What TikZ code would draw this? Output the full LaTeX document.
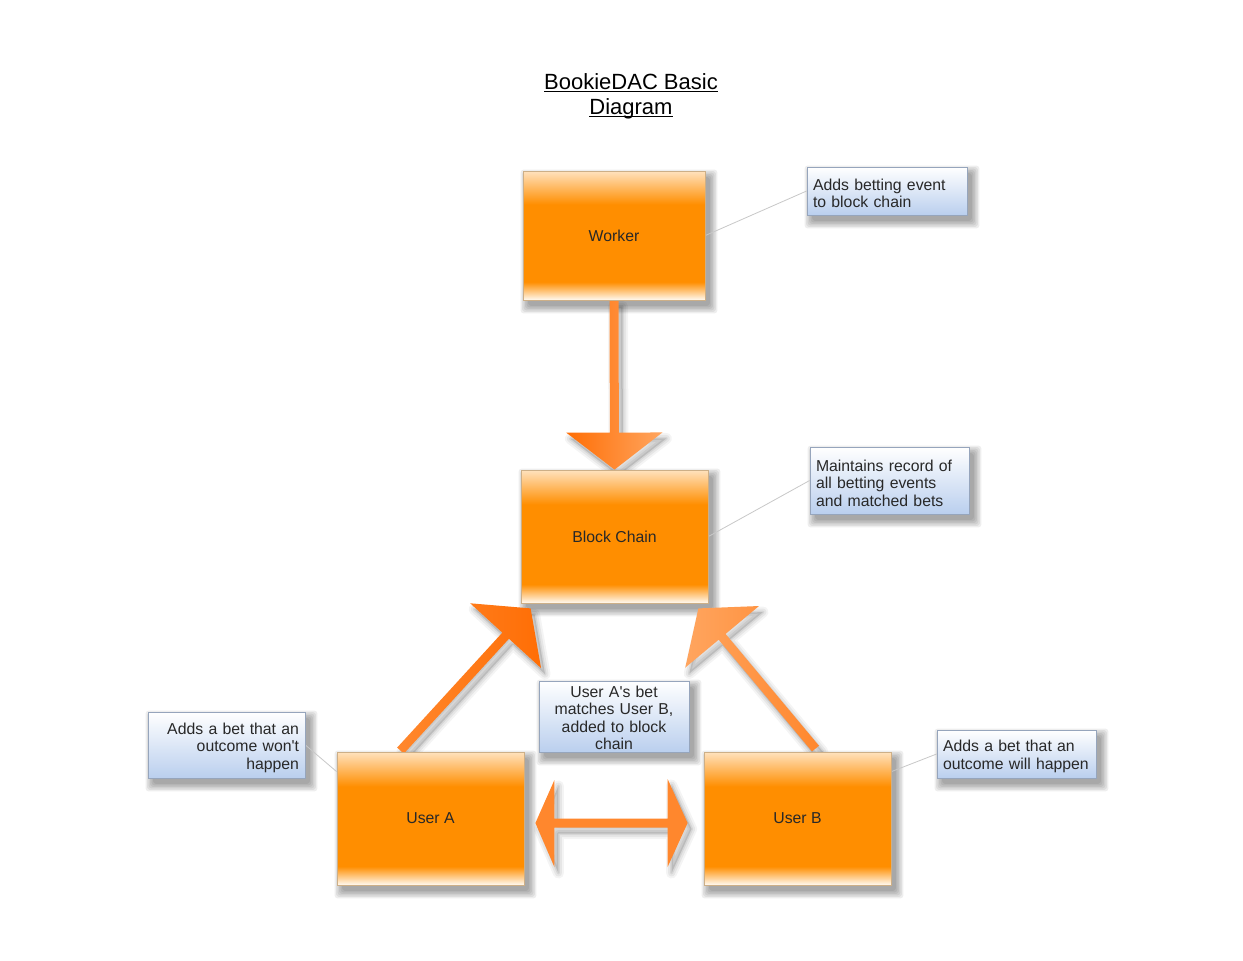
\documentclass[tikz,border=0pt]{standalone}
\usepackage{fontspec}
\setmainfont{Liberation Sans}[Ligatures=TeXOff]
\usetikzlibrary{calc}
\definecolor{boxor}{RGB}{255,142,0}
\definecolor{boxtop}{RGB}{255,226,190}
\definecolor{boxbot}{RGB}{255,250,242}
\definecolor{boxline}{RGB}{205,175,135}
\definecolor{notebot}{RGB}{186,207,238}
\definecolor{noteline}{RGB}{150,165,188}
\definecolor{txt}{RGB}{40,40,40}
\definecolor{arrdark}{RGB}{255,110,5}
\definecolor{arrmid}{RGB}{255,135,45}
\definecolor{arrlight}{RGB}{255,165,95}
\definecolor{linkgray}{RGB}{200,200,200}
\pgfdeclareverticalshading{boxshade}{100bp}{color(0bp)=(boxbot); color(25bp)=(boxbot); color(32bp)=(boxor); color(62bp)=(boxor); color(75bp)=(boxtop); color(100bp)=(boxtop)}
\pgfdeclarelayer{back}
\pgfsetlayers{back,main}
\newcommand\ulfix[1]{\leavevmode\setbox0=\hbox{#1}\rlap{\copy0}\rule[-3pt]{\wd0}{1.2pt}}
\newcommand\tstrut[1][16.5pt]{\rule{0pt}{#1}}
% soft shadow behind a rectangular node
\newcommand\fuzz[1]{%
  \foreach \e in {7,5.5,4,2.5,1,-0.5}{%
    \fill[black, opacity=0.065, rounded corners=3pt]
      ($(#1.north west)+(5-\e,6-\e)$) rectangle ($(#1.south east)+(5+\e,6+\e)$);}}
% polygon through ap1..ap#2
\newcommand\arrpoly[2]{\path[#1] (ap1) \foreach \i in {2,...,#2}{ -- (ap\i)} -- cycle;}
\newcommand\arrshadow[1]{%
  \foreach \w/\o in {11/0.045, 7/0.055, 3/0.065}{%
    \draw[black, opacity=\o, line width=\w pt, line join=round]
      ($(ap1)+(4,6)$) \foreach \i in {2,...,#1}{ -- ($(ap\i)+(4,6)$)} -- cycle;}
  \fill[black, opacity=0.12] ($(ap1)+(4,6)$) \foreach \i in {2,...,#1}{ -- ($(ap\i)+(4,6)$)} -- cycle;}
\newcommand\blkarrow[3]{% #1 shading, #2 start, #3 tip
  \coordinate (hb) at ($(#3)!37pt!(#2)$);
  \coordinate (ap1) at ($(#2)!4.5pt!90:(#3)$);
  \coordinate (ap2) at ($(hb)!4.5pt!90:(#3)$);
  \coordinate (ap3) at ($(hb)!48pt!90:(#3)$);
  \coordinate (ap4) at (#3);
  \coordinate (ap5) at ($(hb)!48pt!-90:(#3)$);
  \coordinate (ap6) at ($(hb)!4.5pt!-90:(#3)$);
  \coordinate (ap7) at ($(#2)!4.5pt!-90:(#3)$);
  \arrshadow{7}
  \arrpoly{#1}{7}}
\tikzset{
  every node/.style={font=\fontsize{15.8pt}{17.5pt}\selectfont, text=txt},
  box/.style={draw=boxline, line width=0.8pt, shading=boxshade,
    minimum width=187pt, minimum height=133pt, inner sep=0pt},
  note/.style={draw=noteline, line width=0.8pt, top color=white, bottom color=notebot,
    inner xsep=6pt, inner ysep=0pt},
  link/.style={draw=linkgray, line width=0.8pt},
  arrshade/.style={shade}
}
\begin{document}
\begin{tikzpicture}[x=1pt,y=-1pt]
\useasboundingbox (0,0) rectangle (1243,961);
\begin{pgfonlayer}{back}
\fill[white] (-1,-1) rectangle (1244,962);
\end{pgfonlayer}

% title
\node[font=\fontsize{22pt}{25pt}\selectfont, text=black, align=center, inner sep=0pt] (title) at (631,96)
  {\ulfix{BookieDAC Basic}\\\ulfix{Diagram}};

% boxes
\node[box, minimum width=182pt, minimum height=129pt] (worker) at (614,235.5) {Worker};
\node[box] (bc) at (614.5,536.5) {Block Chain};
\node[box] (ua) at (430.5,818.5) {User A};
\node[box] (ub) at (797.5,818.5) {User B};

% notes
\node[note, text width=148pt, minimum height=48pt, align=left] (n1) at (887,191) {\tstrut Adds betting event\\to block chain};
\node[note, text width=147pt, minimum height=67pt, align=left] (n2) at (889.5,480.5) {\tstrut Maintains record of\\all betting events\\and matched bets};
\node[note, text width=145pt, minimum height=66pt, align=right] (na) at (226.5,745) {\tstrut[17pt]Adds a bet that an\\outcome won't\\happen};
\node[note, text width=147pt, minimum height=48pt, align=left] (nb) at (1016.5,754) {\tstrut Adds a bet that an\\outcome will happen};
\node[note, text width=138pt, minimum height=71pt, align=center] (nm) at (614,716.5) {\tstrut[14.5pt]User A's bet\\matches User B,\\added to block\\chain};

\coordinate (uaw) at ($(ua.north west)+(0,20)$);
\coordinate (ube) at ($(ub.north east)+(0,20)$);
\coordinate (a1s) at ($(ua.north)+(-30,-1)$);
\coordinate (a1t) at ($(bc.south west)+(10,5)$);
\coordinate (b1s) at ($(ub.north)+(18,-3)$);
\coordinate (b1t) at ($(bc.south east)+(-10,5)$);
\coordinate (dl) at ($(ua.east)+(11,4.5)$);
\coordinate (dr) at ($(ub.west)+(-16,4.5)$);

\begin{pgfonlayer}{back}
\foreach \n in {worker,bc,ua,ub,n1,n2,na,nb,nm}{\fuzz{\n}}
\draw[link] (worker.east) -- (n1.west);
\draw[link] (bc.east) -- (n2.west);
\draw[link] (na.east) -- (uaw);
\draw[link] (ube) -- (nb.west);
\blkarrow{arrshade, left color=arrdark, right color=arrlight}{worker.south}{bc.north}
\blkarrow{arrshade, left color=arrmid, right color=arrdark}{a1s}{a1t}
\blkarrow{arrshade, left color=arrlight, right color=arrmid}{b1s}{b1t}
% double arrow between the users
\coordinate (ap1) at (dl);
\coordinate (ap2) at ($(dl)+(19,-43)$);
\coordinate (ap3) at ($(dl)+(19,-4.5)$);
\coordinate (ap4) at ($(dr)+(-20,-4.5)$);
\coordinate (ap5) at ($(dr)+(-20,-44)$);
\coordinate (ap6) at (dr);
\coordinate (ap7) at ($(dr)+(-20,44)$);
\coordinate (ap8) at ($(dr)+(-20,4.5)$);
\coordinate (ap9) at ($(dl)+(19,4.5)$);
\coordinate (ap10) at ($(dl)+(19,44)$);
\arrshadow{10}
\arrpoly{arrshade, left color=arrmid, middle color=arrdark, right color=arrmid}{10}
\end{pgfonlayer}
\end{tikzpicture}
\end{document}
